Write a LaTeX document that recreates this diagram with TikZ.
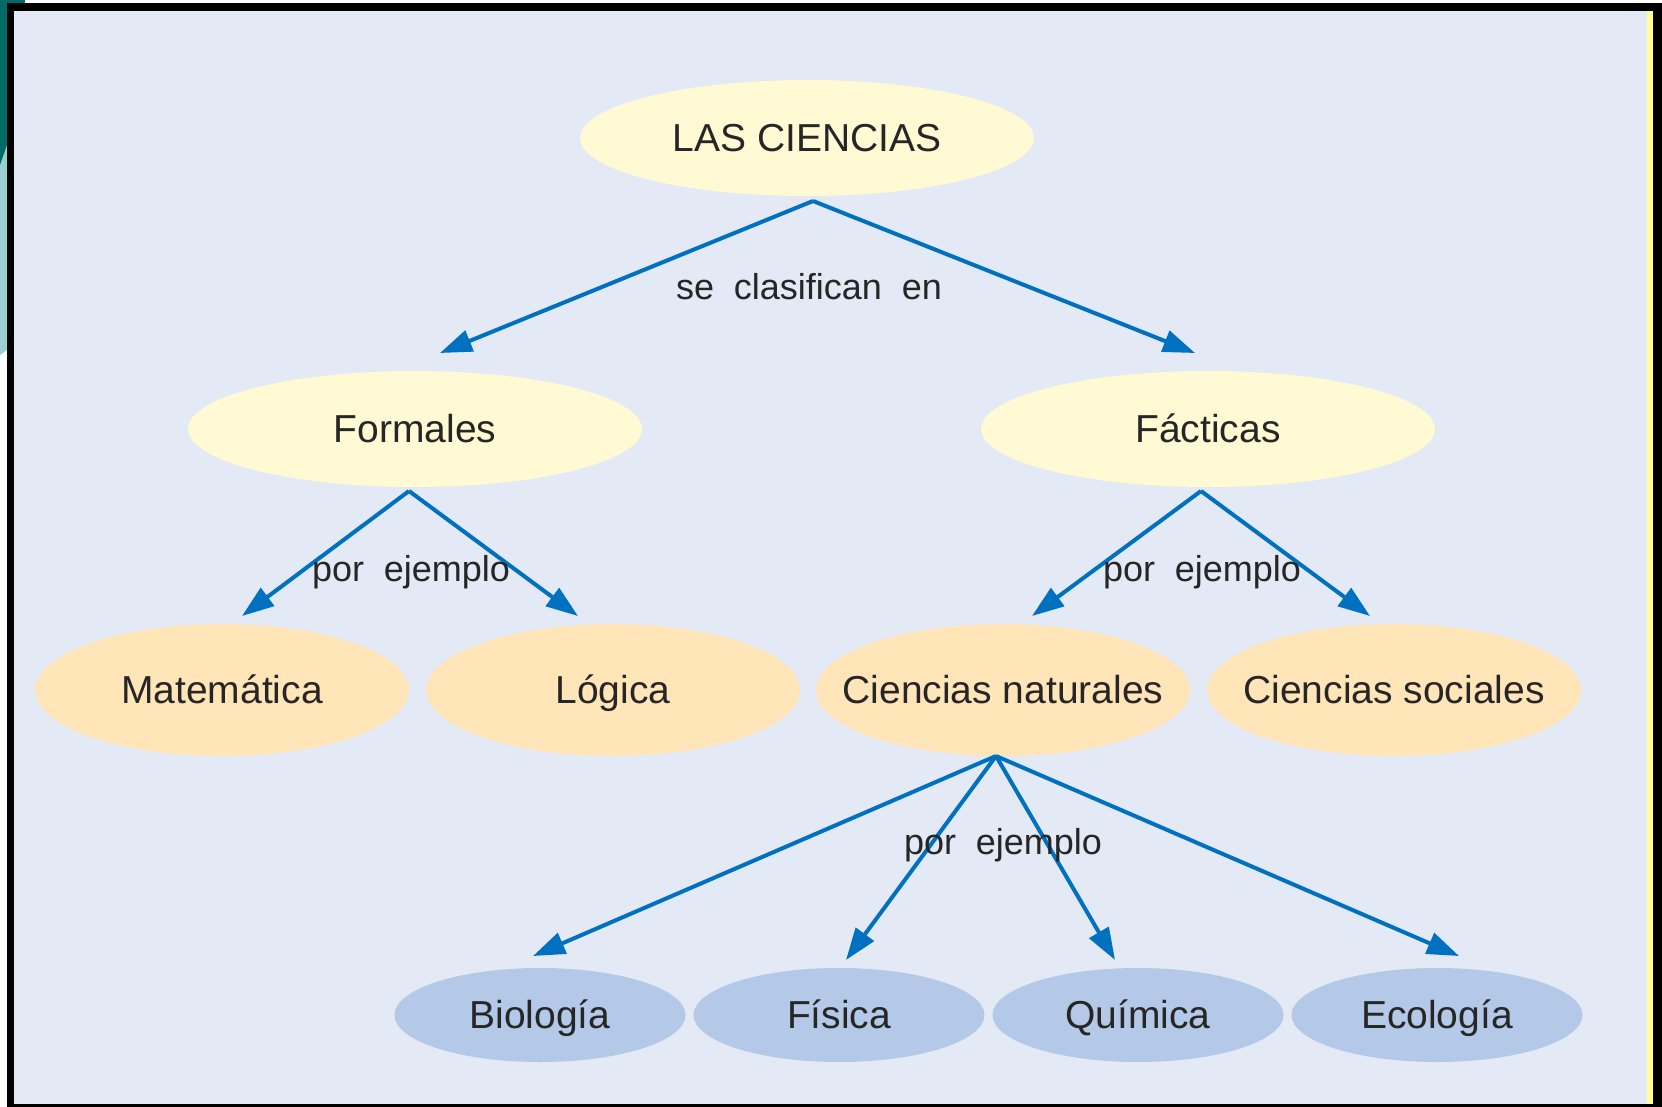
\documentclass[tikz,border=0pt]{standalone}
\usepackage{fontspec}
\setmainfont{Liberation Sans}
\usetikzlibrary{shapes.geometric,arrows.meta}
\definecolor{bgc}{RGB}{227,233,245}
\definecolor{ylw}{RGB}{255,250,212}
\definecolor{org}{RGB}{255,229,184}
\definecolor{blu}{RGB}{180,200,232}
\definecolor{arrc}{RGB}{0,112,192}
\definecolor{txt}{RGB}{38,38,38}
\definecolor{tealD}{RGB}{0,107,102}
\definecolor{tealL}{RGB}{155,207,207}
\definecolor{stripc}{RGB}{255,255,153}
\newcommand{\zw}[1]{\makebox[0pt]{#1}}
\begin{document}
\begin{tikzpicture}[x=1pt,y=-1pt,
  ell/.style={ellipse,inner sep=0pt,text=txt,text height=31pt,text depth=4pt,font=\fontsize{39}{44}\selectfont},
  lvlA/.style={ell,fill=ylw,minimum width=454pt,minimum height=116pt},
  lvlB/.style={ell,fill=org,minimum width=374pt,minimum height=132pt},
  lvlC/.style={ell,fill=blu,minimum width=291pt,minimum height=94pt},
  conn/.style={draw=arrc,line width=4pt,-{Triangle[length=32pt,width=22pt]}},
  lbl/.style={text=txt,font=\fontsize{36}{40}\selectfont,inner sep=0pt}]
\useasboundingbox (0,0) rectangle (1662,1107);
% frame and surroundings
\fill[white] (0,0) rectangle (1662,1107);
\fill[tealL] (0,150) -- (7,145) -- (7,350) -- (0,355) -- cycle;
\fill[tealD] (0,0) -- (25,0) -- (25,145) -- (7,145) -- (0,165) -- cycle;
\fill[black] (7,3) rectangle (1662,1107);
\fill[bgc] (14,11) rectangle (1653,1104);
\fill[stripc] (1647,11) rectangle (1653,1104);
% nodes
\node[lvlA] (lc) at (807,138) {\zw{LAS CIENCIAS}};
\node[lvlA] (for) at (415,429) {\zw{Formales}};
\node[lvlA] (fac) at (1208,429) {\zw{Fácticas}};
\node[lvlB] (mat) at (222,690) {\zw{Matemática}};
\node[lvlB] (log) at (613,690) {\zw{Lógica}};
\node[lvlB] (cn) at (1003,690) {\zw{Ciencias naturales}};
\node[lvlB] (cs) at (1394,690) {\zw{Ciencias sociales}};
\node[lvlC] (bio) at (540,1015) {\zw{Biología}};
\node[lvlC] (fis) at (839,1015) {\zw{Física}};
\node[lvlC] (qui) at (1138,1015) {\zw{Química}};
\node[lvlC] (eco) at (1437,1015) {\zw{Ecología}};
% connector end points
\coordinate (lcS) at (813,201);
\coordinate (forT) at (440,353);
\coordinate (facT) at (1195,353);
\coordinate (forS) at (409,491);
\coordinate (matT) at (242,616);
\coordinate (logT) at (578,616);
\coordinate (facS) at (1201,491);
\coordinate (cnT) at (1032,616);
\coordinate (csT) at (1370,616);
\coordinate (cnS) at (996,756);
\coordinate (bioT) at (533,956);
\coordinate (fisT) at (846,960);
\coordinate (quiT) at (1115,960);
\coordinate (ecoT) at (1459,956);
% connectors
\draw[conn] (lcS) -- (forT);
\draw[conn] (lcS) -- (facT);
\draw[conn] (forS) -- (matT);
\draw[conn] (forS) -- (logT);
\draw[conn] (facS) -- (cnT);
\draw[conn] (facS) -- (csT);
\draw[conn] (cnS) -- (bioT);
\draw[conn] (cnS) -- (fisT);
\draw[conn] (cnS) -- (quiT);
\draw[conn] (cnS) -- (ecoT);
% labels
\node[lbl] (l1) at (809,287) {se\hspace{0.55em}clasifican\hspace{0.55em}en};
\node[lbl] (l2) at (411,572) {por\hspace{0.55em}ejemplo};
\node[lbl] (l3) at (1202,572) {por\hspace{0.55em}ejemplo};
\node[lbl] (l4) at (1003,845) {por\hspace{0.55em}ejemplo};
\end{tikzpicture}
\end{document}
